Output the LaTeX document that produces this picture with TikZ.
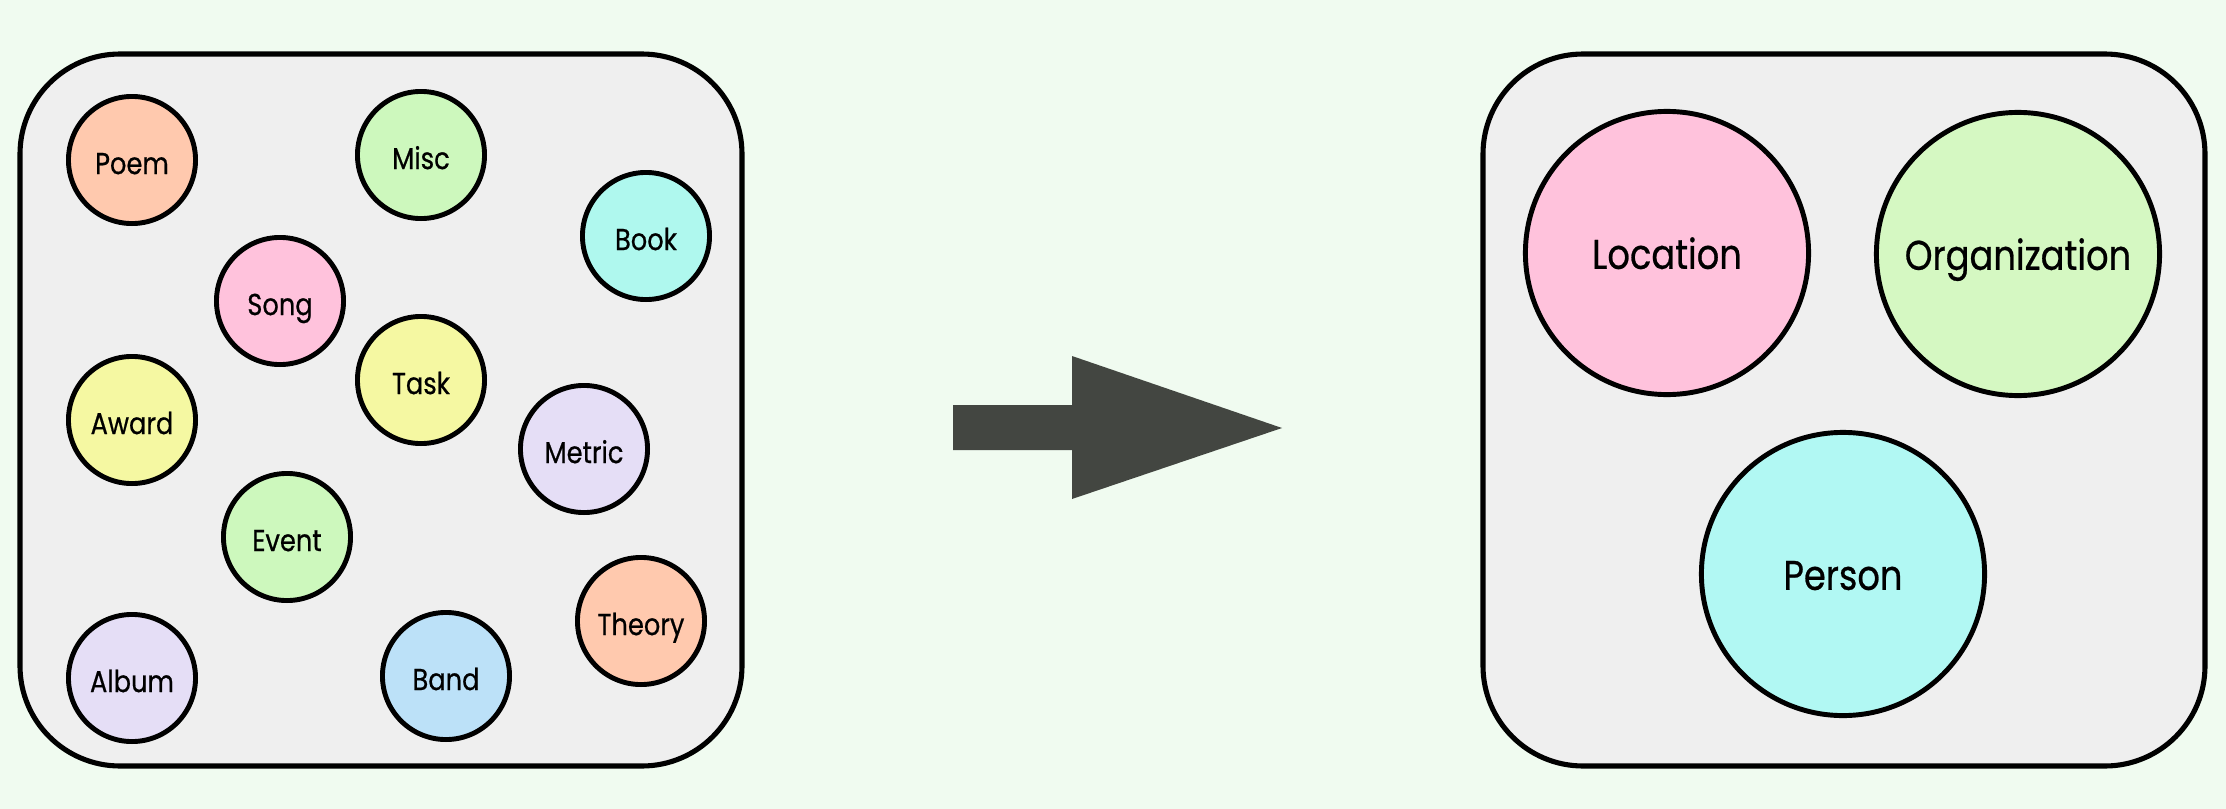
\documentclass[tikz,border=0pt]{standalone}
\usepackage{fontspec}
\setmainfont{Poppins}[FakeStretch=0.85,FakeBold=0.6]
\definecolor{bg}{RGB}{240,251,240}
\definecolor{boxgray}{RGB}{239,239,239}
\definecolor{arrowgray}{RGB}{67,70,65}
\definecolor{cpeach}{RGB}{255,201,174}
\definecolor{cgreen}{RGB}{205,248,189}
\definecolor{caqua}{RGB}{175,248,238}
\definecolor{cpink}{RGB}{255,194,220}
\definecolor{cyellow}{RGB}{245,248,162}
\definecolor{clav}{RGB}{229,222,246}
\definecolor{cblue}{RGB}{188,225,248}
\definecolor{corg}{RGB}{213,248,194}
\definecolor{cperson}{RGB}{177,248,243}
\begin{document}
\begin{tikzpicture}[x=0.01cm,y=-0.01cm,
  panel/.style={draw=black, line width=1.45pt, fill=boxgray, rounded corners=1cm},
  smallc/.style={circle, draw=black, line width=1.4pt, minimum size=1.27cm, inner sep=0pt,
    text height=0.8em, text depth=0pt, font=\fontsize{8.6}{10}\selectfont},
  bigc/.style={circle, draw=black, line width=1.4pt, minimum size=2.83cm, inner sep=0pt,
    text height=0.9em, text depth=0pt, font=\fontsize{11.8}{13}\selectfont},
  blockarrow/.style={fill=arrowgray}
]
\fill[bg] (0,0) rectangle (2226,809);
\useasboundingbox (0,0) rectangle (2226,809);

% panels
\draw[panel] (20,54) rectangle (742,766);
\draw[panel] (1483,54) rectangle (2205,766);

% left circles
\node[smallc, fill=cpeach]  (poem)   at (132,160) {Poem};
\node[smallc, fill=cgreen]  (misc)   at (421,155) {Misc};
\node[smallc, fill=caqua]   (book)   at (646,236) {Book};
\node[smallc, fill=cpink]   (song)   at (280,301) {Song};
\node[smallc, fill=cyellow] (task)   at (421,380) {Task};
\node[smallc, fill=cyellow] (award)  at (132,420) {Award};
\node[smallc, fill=clav]    (metric) at (584,449) {Metric};
\node[smallc, fill=cgreen]  (event)  at (287,537) {Event};
\node[smallc, fill=cpeach]  (theory) at (641,621) {Theory};
\node[smallc, fill=clav]    (album)  at (132,678) {Album};
\node[smallc, fill=cblue]   (band)   at (446,676) {Band};

% block arrow
\fill[blockarrow] (953,405) -- (1072,405) -- (1072,356) -- (1282,428)
  -- (1072,499) -- (1072,450) -- (953,450) -- cycle;

% right circles
\node[bigc, fill=cpink]   (location) at (1667,253) {Location};
\node[bigc, fill=corg]    (org)      at (2018,254) {Organization};
\node[bigc, fill=cperson] (person)   at (1843,574) {Person};
\end{tikzpicture}
\end{document}
